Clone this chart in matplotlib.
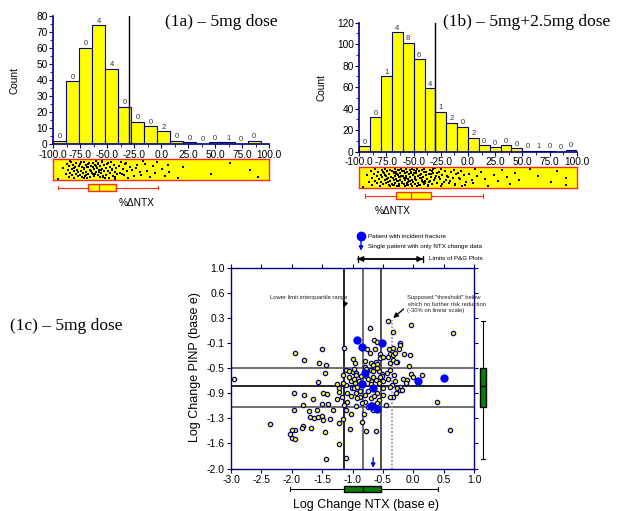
import numpy as np
import matplotlib.pyplot as plt

plt.rcParams['font.family'] = ['Liberation Sans', 'DejaVu Sans']

# === data: (1a) 5mg dose ===
counts_a = [2, 39, 60, 74, 47, 23, 14, 11, 8, 2, 1, 0, 1, 1, 0, 2]
fracs_a = [0, 0, 0, 4, 4, 0, 0, 0, 2, 0, 0, 0, 0, 1, 0, 0]
bin_start_a, bin_width_a = -100, 12
strip_a = [
    -95.4, -90.6,
    -87.8, -87.0, -86.3, -85.6, -85.1, -84.4, -83.6, -83.0, -82.3, -81.7, -81.2,
    -80.5, -79.9, -79.1, -78.6, -77.8, -77.2, -76.4, -76.9, -84.8, -80.8,
    -75.6, -75.0, -74.3, -73.8, -73.1, -72.5, -71.9, -71.2, -70.6, -70.1, -69.4,
    -68.8, -68.2, -67.5, -66.9, -66.4, -65.8, -65.1, -64.5, -74.7, -72.0, -69.9,
    -67.7, -65.4, -71.5, -68.5,
    -63.7, -63.1, -62.6, -62.0, -61.4, -60.7, -60.2, -59.6, -59.0, -58.3, -57.8,
    -57.1, -56.5, -55.9, -55.3, -54.8, -54.1, -53.5, -52.9, -52.3, -63.4, -61.1,
    -58.7, -56.2, -53.8, -60.4, -57.4, -55.0,
    -51.6, -50.9, -50.2, -49.5, -48.7, -47.9, -47.2, -46.4, -45.6, -44.8, -44.0,
    -43.2, -42.5, -41.6, -40.7, -49.0, -45.9, -42.9,
    -39.5, -38.3, -37.1, -35.8, -34.6, -33.2, -31.9, -30.4, -29.1, -36.7, -32.5,
    -27.3, -25.0, -22.6, -20.1, -17.4, -23.8, -19.0,
    -15.2, -13.5, -10.4, -7.9, -5.8, -4.3,
    0.9, 3.2, 6.1, 7.4,
    15.8, 20.4,
    46.0, 63.6, 82.1, 89.8,
]
box_a = dict(whislo=-95.4, q1=-68.2, med=-57.4, q3=-42.2, whishi=-3.3, fliers=[])

# === data: (1b) 5mg+2.5mg dose ===
counts_b = [5, 32, 70, 111, 101, 86, 59, 37, 27, 23, 13, 6, 4, 6, 3, 1, 1, 1, 0, 2]
fracs_b = [0, 0, 1, 4, 8, 6, 4, 1, 2, 0, 2, 0, 0, 0, 0, 0, 1, 0, 0, 0]
bin_start_b, bin_width_b = -100, 10
strip_b = [
    -96.6, -93.2, -91.0,
    -89.5, -88.6, -87.9, -86.8, -85.9, -85.2, -84.1, -83.5, -82.6, -81.9, -81.2, -80.4,
    -79.8, -79.1, -78.7, -77.9, -77.4, -76.8, -76.1, -75.5, -75.0, -74.2, -73.7,
    -73.1, -72.6, -72.0, -71.4, -70.9, -70.3, -78.3, -74.6, -71.8, -76.4, -73.4,
    -69.8, -69.4, -68.9, -68.5, -68.0, -67.6, -67.1, -66.7, -66.2, -65.8, -65.3,
    -64.9, -64.4, -64.0, -63.5, -63.1, -62.6, -62.2, -61.7, -61.3, -60.8, -60.4,
    -69.1, -67.8, -66.5, -65.1, -63.8, -62.4, -61.0, -68.3, -66.0, -63.3, -64.7, -60.9,
    -59.7, -59.2, -58.8, -58.3, -57.9, -57.4, -56.9, -56.5, -56.0, -55.6, -55.1,
    -54.7, -54.2, -53.7, -53.3, -52.8, -52.4, -51.9, -51.5, -51.0, -50.6, -58.6,
    -57.1, -55.8, -54.4, -53.0, -51.7, -59.4, -56.2, -52.6, -54.9, -57.6, -50.3, -55.3,
    -49.8, -49.2, -48.6, -48.0, -47.4, -46.8, -46.2, -45.6, -45.0, -44.4, -43.8,
    -43.2, -42.6, -42.0, -41.4, -40.8, -40.3, -48.9, -46.5, -44.1, -41.7, -47.7,
    -43.5, -45.3, -49.5, -42.3, -40.6, -46.0,
    -39.6, -38.7, -37.9, -37.0, -36.2, -35.3, -34.5, -33.6, -32.8, -31.9, -31.1,
    -30.3, -38.2, -35.8, -33.1, -30.7, -36.6, -34.0, -39.1, -32.3,
    -29.5, -28.3, -27.1, -25.9, -24.7, -23.5, -22.3, -21.1, -26.5, -23.9, -28.8, -20.4, -25.2,
    -19.3, -17.6, -15.8, -14.1, -12.4, -10.7, -16.5, -13.2, -18.4, -11.5,
    -9.2, -7.4, -5.5, -3.6, -1.8, -6.3, -8.1, -2.7,
    1.2, 3.7, 6.4, 8.0, 4.9,
    11.5, 15.7, 18.7,
    24.0, 27.2, 31.0, 35.7, 38.4, 43.3, 47.1,
    57.1, 64.2, 76.2, 81.7, 90.2, 90.4,
]
box_b = dict(whislo=-94.8, q1=-66.2, med=-52.7, q3=-34.0, whishi=13.6, fliers=[])
threshold_pct = -30

# === data: (1c) log change NTX vs log change PINP ===
ntx = [
    -1.95, -1.80, -1.51, -1.55, -1.44, -1.14, -0.72, -0.41, -0.33, -0.04, 0.65,
    -0.64, -0.59, -0.22, -0.21, -0.23, -0.76, -0.63, -0.40, -0.33,
    -0.72, -0.55, -0.38, -0.33, -0.41, -0.53, -0.16, -0.05, -0.27, -0.07, -0.39,
    -0.99, -0.96, -0.80, -0.70, -0.62, -0.59, -0.66, -0.55, -0.49, -0.30, -0.34, -0.28, -0.79,
    -1.10, -1.05, -1.00, -0.95, -0.78, -0.78, -0.70, -0.66, -0.52, -0.44, -0.39, -0.32,
    -0.17, -0.04, 0.00, 0.14, -0.10,
    -1.03, -0.96, -0.70, -1.10, -0.35, -0.12,
    -2.95, -1.57, -1.45, -1.16, -0.95, -0.77, -0.57, -0.50, -0.52, -1.16, -1.26, -1.22, -0.21, -0.26,
    -0.22, -0.19, -0.38, -0.33, -0.38, -0.49, -0.59, -0.95, -1.01, -0.98, -1.09, -1.23,
    -1.18, -1.26, -1.09, -0.88, -0.80, -0.74, -0.95, -1.10, -1.03, -0.67, -0.81, 0.39,
    -1.96, -1.80, -1.65, -1.49, -1.42, -1.81, -1.51, -1.40, -1.96, -1.71, -1.59, -1.32,
    -2.36, -1.70, -1.64, -1.57, -1.51, -1.48, -1.45, -1.82, -1.95, -2.00, -2.03, -1.99,
    -1.94, -1.83, -1.69, -1.37, -1.23, -1.23, -1.44, -1.11, -1.16, -1.04, -0.85, -0.77, -0.62, 0.60,
    -1.05, -0.98, -0.90, -0.86, -0.74, -0.69, -0.62, -0.57, -0.55, -0.93, -0.87, -0.80,
    -0.74, -0.70, -0.64, -0.56, -0.60, -0.85, -0.92, -1.02, -1.14, -0.45, -0.50, -0.42,
    -0.30, -0.28, -0.66, -0.82, -0.97, -0.60,
]
pinp = [
    -0.27, -0.385, -0.21, -0.425, -0.45, -0.195, 0.10, 0.20, 0.04, 0.14, 0.015,
    -0.075, -0.11, -0.12, -0.15, -0.22, -0.22, -0.21, -0.21, -0.20,
    -0.275, -0.285, -0.295, -0.31, -0.33, -0.34, -0.295, -0.31, -0.41, -0.47, -0.43,
    -0.36, -0.43, -0.39, -0.42, -0.41, -0.44, -0.46, -0.35, -0.335, -0.28, -0.38, -0.41, -0.49,
    -0.53, -0.54, -0.56, -0.58, -0.545, -0.62, -0.53, -0.55, -0.59, -0.57, -0.53, -0.60,
    -0.67, -0.595, -0.63, -0.60, -0.68,
    -0.69, -0.72, -0.69, -0.75, -0.75, -0.73,
    -0.66, -0.71, -0.575, -0.60, -0.60, -0.52, -0.55, -0.70, -0.62, -0.72, -0.745, -0.80, -0.78, -0.80,
    -0.83, -0.83, -0.79, -0.93, -0.94, -0.90, -0.88, -0.87, -0.80, -0.80, -0.87, -0.86,
    -0.94, -0.97, -1.00, -0.94, -1.00, -1.08, -1.07, -1.13, -1.18, -1.13, -1.18, -1.00,
    -0.88, -0.91, -0.96, -0.87, -0.89, -1.05, -1.03, -1.03, -1.13, -1.14, -1.12, -1.13,
    -1.33, -1.23, -1.25, -1.23, -1.22, -1.27, -1.45, -1.37, -1.43, -1.43, -1.49, -1.55,
    -1.56, -1.40, -1.40, -1.26, -1.32, -1.63, -1.86, -1.85, -1.26, -1.41, -1.31, -1.44, -1.44, -1.43,
    -0.64, -0.66, -0.70, -0.62, -0.66, -0.74, -0.68, -0.73, -0.64, -0.78, -0.85, -0.90,
    -0.84, -0.95, -0.92, -0.98, -1.02, -1.02, -0.95, -0.92, -1.05, -1.05, -0.80, -0.66,
    -0.70, -0.88, -0.63, -0.72, -0.52, -0.50,
]
frac_ntx = [-0.93, -0.84, -0.51, -0.79, -0.84, -0.66, 0.08, 0.50, -0.70, -0.60, -0.68]
frac_pinp = [-0.075, -0.18, -0.13, -0.58, -0.74, -0.80, -0.70, -0.655, -1.07, -1.11, -1.06]
ntx_only = [-0.66]
ntx_box = dict(whislo=-2.03, q1=-1.135, med=-0.82, q3=-0.53, whishi=0.40, fliers=[])
pinp_box = dict(whislo=-1.856, q1=-1.075, med=-0.77, q3=-0.50, whishi=0.195, fliers=[])
threshold_log = np.log(0.7)
pg_limits = [-0.915, 0.16]
ytick_vals = np.linspace(1.0, -2.0, 9)
ytick_labels = ['1.0', '0.6', '0.3', '-0.1', '-0.5', '-0.9', '-1.3', '-1.6', '-2.0']

YEL = '#ffff00'
NAVY = '#000080'
RED = '#ff2a1a'
GREEN = '#0a7d0a'
W, H = 624, 511

fig = plt.figure(figsize=(W / 100, H / 100), dpi=100)


def rect(x0, y0, x1, y1):
    # pixel box (top-left origin) -> figure fraction
    return [x0 / W, 1 - y1 / H, (x1 - x0) / W, (y1 - y0) / H]


def ftext(x, y, s, **kw):
    fig.text(x / W, 1 - y / H, s, **kw)


def hist_panel(r, start, width, counts, fracs, ymax, ystep):
    ax = fig.add_axes(r)
    edges = start + width * np.arange(len(counts) + 1)
    ax.bar(edges[:-1], counts, width=width, align='edge', color=YEL,
           edgecolor=NAVY, lw=0.8)
    for x0, c, f in zip(edges[:-1], counts, fracs):
        ax.text(x0 + width / 2, c + ymax * 0.005, str(f), ha='center',
                va='bottom', fontsize=5.5, color='#333333')
    ax.axvline(threshold_pct, color='black', lw=1)
    ax.set_xlim(-100, 100)
    ax.set_ylim(0, ymax)
    ax.set_xticks(np.arange(-100, 101, 25))
    ax.set_xticklabels([f'{v:.1f}' for v in np.arange(-100, 101, 25)])
    ax.set_xticks(np.arange(-100, 101, 12.5), minor=True)
    ax.set_yticks(np.arange(0, ymax + 1, ystep))
    ax.set_yticks(np.arange(0, ymax + 1, ystep / 2), minor=True)
    for s in ['top', 'right']:
        ax.spines[s].set_visible(False)
    for s in ['left', 'bottom']:
        ax.spines[s].set_color(NAVY)
        ax.spines[s].set_linewidth(1.2)
    ax.tick_params(which='both', direction='out', color=NAVY, labelsize=7.3, pad=1)
    ax.tick_params(which='major', length=3)
    ax.tick_params(which='minor', length=2)
    return ax


def strip_panel(r, vals):
    ax = fig.add_axes(r, facecolor=YEL)
    jit = (np.arange(len(vals)) * 0.6180339887) % 1 * 0.84 + 0.08
    ax.plot(vals, jit, 's', ms=2.1, color='black', mew=0)
    ax.set_xlim(-100, 100)
    ax.set_ylim(0, 1)
    ax.set_xticks([])
    ax.set_yticks([])
    for s in ax.spines.values():
        s.set_color(RED)
        s.set_linewidth(1)


def box_panel(r, stats, xlim, orient, width, face, edge):
    ax = fig.add_axes(r)
    ax.bxp([stats], positions=[0.5], widths=width, orientation=orient,
           patch_artist=True, showfliers=False,
           boxprops=dict(facecolor=face, edgecolor=edge, lw=1),
           whiskerprops=dict(color=edge, lw=0.8),
           capprops=dict(color=edge, lw=0.8),
           medianprops=dict(color=edge, lw=1))
    if orient == 'horizontal':
        ax.set_xlim(*xlim)
        ax.set_ylim(0, 1)
    else:
        ax.set_ylim(*xlim)
        ax.set_xlim(0, 1)
    ax.axis('off')


# (1a)
hist_panel(rect(53.3, 15.7, 269.3, 144), bin_start_a, bin_width_a, counts_a, fracs_a, 80, 10)
strip_panel(rect(53.3, 159.3, 269.3, 180.3), strip_a)
box_panel(rect(53.3, 182.7, 269.3, 192.7), box_a, (-100, 100), 'horizontal', 0.7, YEL, RED)
ftext(165, 22, '(1a) – 5mg dose', family='Liberation Serif', fontsize=12.5, va='center')
ftext(15, 80, 'Count', fontsize=7.3, rotation=90, ha='center', va='center')
ftext(136.7, 203.3, '%ΔNTX', fontsize=7.3, ha='center', va='center')

# (1b)
hist_panel(rect(359.3, 22.7, 576.7, 151.7), bin_start_b, bin_width_b, counts_b, fracs_b, 120, 20)
strip_panel(rect(359.3, 166.7, 576.7, 188.3), strip_b)
box_panel(rect(359.3, 191, 576.7, 201), box_b, (-100, 100), 'horizontal', 0.7, YEL, RED)
ftext(443, 22, '(1b) – 5mg+2.5mg dose', family='Liberation Serif', fontsize=12.5, va='center')
ftext(321.7, 87, 'Count', fontsize=7.3, rotation=90, ha='center', va='center')
ftext(393, 210.7, '%ΔNTX', fontsize=7.3, ha='center', va='center')

# (1c)
ax = fig.add_axes(rect(231, 267.5, 474, 468.5))
ax.set_xlim(-3, 1)
ax.set_ylim(-2, 1)
ax.axvline(ntx_box['q1'], color='black', lw=1.2, zorder=1)
ax.axvline(ntx_box['med'], color='#555555', lw=1.2, zorder=1)
ax.axvline(ntx_box['q3'], color='#333333', lw=1.2, zorder=1)
ax.axhline(pinp_box['q3'], color='#555555', lw=1.2, zorder=1)
ax.axhline(pinp_box['med'], color='black', lw=1.2, zorder=1)
ax.axhline(pinp_box['q1'], color='#555555', lw=1.2, zorder=1)
ax.plot([threshold_log, threshold_log], [-2, 0.215], ls=(0, (1, 1)), color='#999999', lw=1.3, zorder=1)
ax.plot(ntx, pinp, 'o', ms=3.1, mfc=YEL, mec=NAVY, mew=0.9, zorder=3)
ax.plot(frac_ntx, frac_pinp, 'o', ms=6, color='#0000ff', mew=0, zorder=4)
for x in ntx_only:
    ax.annotate('', xy=(x, -1.99), xytext=(x, -1.84),
                arrowprops=dict(arrowstyle='-|>', color='#0000ff', lw=1, mutation_scale=6,
                                shrinkA=0, shrinkB=0))

ax.set_xticks(np.arange(-3, 1.01, 0.5))
ax.set_xticklabels([f'{v:.1f}' for v in np.arange(-3, 1.01, 0.5)])
ax.set_yticks(ytick_vals)
ax.set_yticklabels(ytick_labels)
for s in ax.spines.values():
    s.set_color(NAVY)
    s.set_linewidth(1)
ax.tick_params(top=True, right=True, direction='out', color=NAVY, length=3,
               labelsize=7.5, pad=1.5)

# annotations inside the scatter
ax.annotate('Lower limit interquartile range', xy=(-1.15, 0.40), xytext=(-2.36, 0.545),
            fontsize=4.2, va='center', color='#222222',
            arrowprops=dict(arrowstyle='-|>', color='black', lw=1, mutation_scale=7,
                            shrinkA=0, shrinkB=0, relpos=(1, 0.5)))
ax.text(-0.105, 0.455, 'Supposed "threshold" below\nwhich no further risk reduction\n(-30% on linear scale)',
        fontsize=4.2, va='center', ha='left', color='#222222', linespacing=1.3)
ax.annotate('', xy=(-0.33, 0.245), xytext=(-0.16, 0.38),
            arrowprops=dict(arrowstyle='-|>', color='black', lw=1, mutation_scale=7,
                            shrinkA=0, shrinkB=0))

# key above the scatter
ax.plot([-0.865], [1.47], 'o', ms=6, color='#0000ff', clip_on=False)
ax.text(-0.75, 1.47, 'Patient with incident fracture', fontsize=4.5, va='center')
ax.annotate('', xy=(-0.86, 1.25), xytext=(-0.86, 1.39), annotation_clip=False,
            arrowprops=dict(arrowstyle='-|>', color='#0000ff', lw=1, mutation_scale=6,
                            shrinkA=0, shrinkB=0))
ax.text(-0.75, 1.32, 'Single patient with only NTX change data', fontsize=4.5, va='center')
ax.annotate('', xy=(pg_limits[0], 1.127), xytext=(pg_limits[1], 1.127), annotation_clip=False,
            arrowprops=dict(arrowstyle='<|-|>', color='black', lw=1, mutation_scale=8,
                            shrinkA=0, shrinkB=0))
ax.annotate('', xy=(pg_limits[0], 1.127), xytext=(pg_limits[1], 1.127), annotation_clip=False,
            arrowprops=dict(arrowstyle='|-|, widthA=0.25, widthB=0.25', color='black', lw=1,
                            shrinkA=0, shrinkB=0))
ax.text(0.26, 1.127, 'Limits of P&G Plots', fontsize=4.5, va='center')

box_panel(rect(231, 482, 474, 496), ntx_box, (-3, 1), 'horizontal', 0.45, GREEN, 'black')
box_panel(rect(477, 267.5, 489, 468.5), pinp_box, (-2, 1), 'vertical', 0.5, GREEN, 'black')

ftext(10, 326, '(1c) – 5mg dose', family='Liberation Serif', fontsize=12.5, va='center')
ftext(195, 367, 'Log Change PINP (base e)', fontsize=9, rotation=90, ha='center', va='center')
ftext(366, 505, 'Log Change NTX (base e)', fontsize=9, ha='center', va='center')

fig.savefig('out.png', dpi=100)
